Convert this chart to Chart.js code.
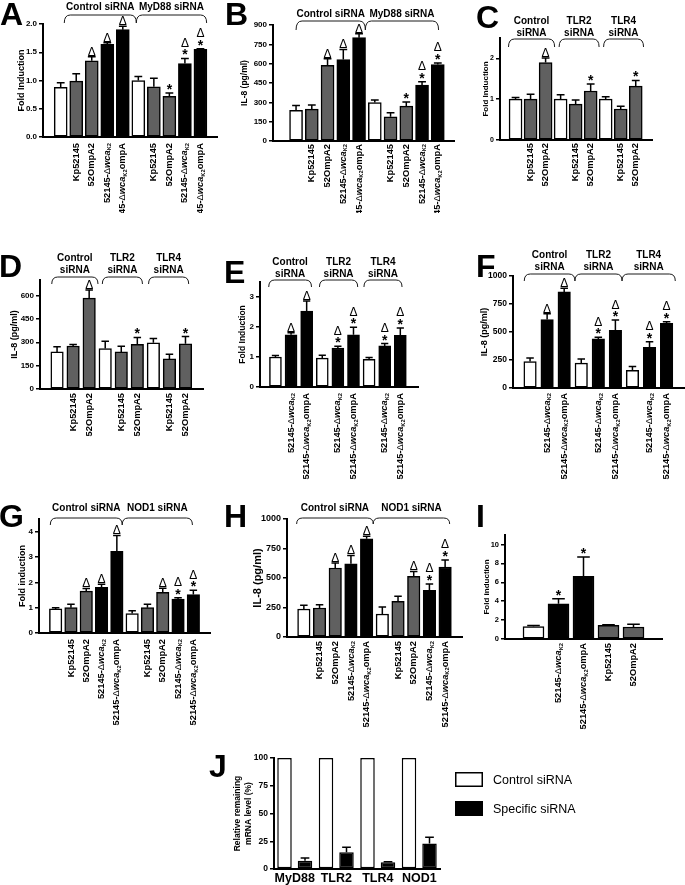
<!DOCTYPE html>
<html>
<head>
<meta charset="utf-8">
<title>siRNA knockdown panels</title>
<script src="https://cdn.jsdelivr.net/npm/chart.js@4.4.1/dist/chart.umd.min.js"></script>
<style>
  html, body { margin: 0; padding: 0; background: #fff; }
  body { position: relative; width: 685px; height: 885px; overflow: hidden; }
  canvas { position: absolute; }
</style>
</head>
<body>
<script>
// ---- values ----
const strainsTen = ['', 'Kp52145', '52OmpA2', '52145-ΔwcaK2', '52145-ΔwcaK2ompA', '', 'Kp52145', '52OmpA2', '52145-ΔwcaK2', '52145-ΔwcaK2ompA'];
const strainsOmp = ['', 'Kp52145', '52OmpA2', '', 'Kp52145', '52OmpA2', '', 'Kp52145', '52OmpA2'];
const strainsWca = ['', '52145-ΔwcaK2', '52145-ΔwcaK2ompA', '', '52145-ΔwcaK2', '52145-ΔwcaK2ompA', '', '52145-ΔwcaK2', '52145-ΔwcaK2ompA'];
const strainsI = ['', '52145-ΔwcaK2', '52145-ΔwcaK2ompA', 'Kp52145', '52OmpA2'];

const groupsMyD88 = ['Control siRNA', 'MyD88 siRNA'];
const groupsTLR = [['Control', 'siRNA'], ['TLR2', 'siRNA'], ['TLR4', 'siRNA']];
const groupsNOD1 = ['Control siRNA', 'NOD1 siRNA'];

const aValues = [0.88, 0.99, 1.35, 1.64, 1.90, 1.00, 0.89, 0.72, 1.30, 1.55];
const aErrors = [0.08, 0.13, 0.07, 0.03, 0.06, 0.07, 0.15, 0.06, 0.09, 0.01];
const aMarks = ['', '', 'Δ', 'Δ', 'Δ', '', '', '*', '*Δ', '*Δ'];

const bValues = [238, 247, 588, 632, 802, 299, 188, 270, 433, 593];
const bErrors = [38, 33, 50, 78, 31, 20, 31, 33, 26, 13];
const bMarks = ['', '', 'Δ', 'Δ', 'Δ', '', '', '*', '*Δ', '*Δ'];

const cValues = [1.00, 1.00, 1.90, 1.00, 0.88, 1.20, 1.00, 0.76, 1.32];
const cErrors = [0.04, 0.12, 0.11, 0.11, 0.10, 0.17, 0.06, 0.07, 0.14];
const cMarks = ['', '', 'Δ', '', '', '*', '', '', '*'];

const dValues = [238, 276, 584, 260, 238, 287, 297, 193, 290];
const dErrors = [33, 10, 52, 47, 37, 44, 28, 30, 47];
const dMarks = ['', '', 'Δ', '', '', '*', '', '', '*'];

const eValues = [1.00, 1.74, 2.53, 0.96, 1.30, 1.74, 0.92, 1.37, 1.72];
const eErrors = [0.05, 0.07, 0.34, 0.10, 0.06, 0.25, 0.06, 0.08, 0.25];
const eMarks = ['', 'Δ', 'Δ', '', '*Δ', '*Δ', '', '*Δ', '*Δ'];

const fValues = [237, 612, 858, 222, 438, 515, 157, 364, 577];
const fErrors = [30, 52, 33, 38, 15, 92, 35, 50, 14];
const fMarks = ['', 'Δ', 'Δ', '', '*Δ', '*Δ', '', '*Δ', '*Δ'];

const gValues = [0.95, 1.00, 1.65, 1.80, 3.22, 0.77, 1.00, 1.61, 1.34, 1.52];
const gErrors = [0.05, 0.13, 0.11, 0.12, 0.63, 0.11, 0.13, 0.16, 0.05, 0.17];
const gMarks = ['', '', 'Δ', 'Δ', 'Δ', '', '', 'Δ', '*Δ', '*Δ'];

const hValues = [237, 246, 585, 621, 833, 195, 302, 514, 395, 593];
const hErrors = [32, 28, 42, 70, 20, 60, 43, 42, 55, 60];
const hMarks = ['', '', 'Δ', 'Δ', 'Δ', '', '', 'Δ', '*Δ', '*Δ'];

const iValues = [1.32, 3.72, 6.62, 1.44, 1.27];
const iErrors = [0.12, 0.55, 2.05, 0.06, 0.28];
const iMarks = ['', '*', '*', '', ''];

const jGenes = ['MyD88', 'TLR2', 'TLR4', 'NOD1'];
const jControl = [100, 100, 100, 100];
const jSpecific = [7.5, 15, 6, 23];
const jSpecificErr = [2.5, 4.5, 0.6, 5.5];

// ---- layout / styling ----
const FONT = '"Liberation Sans", Arial, Helvetica, sans-serif';
const fillOf = { w: '#ffffff', g: '#606060', b: '#000000' };
Chart.defaults.font.family = FONT;
Chart.defaults.color = '#000';

const panels = [
  { letter: 'A', letterAt: [0, 25], box: [0, 0, 225, 213],
    values: aValues, errors: aErrors, marks: aMarks, labels: strainsTen, fills: 'wggbbwggbb',
    axisX: 43, top: 24, base: 137, right: 217, c0: 53, dx: 17.25, bw: 13,
    ymax: 2, step: 0.5, dec: 1, tickSize: 8, title: 'Fold Induction', titleX: 22, titleSize: 9,
    groups: groupsMyD88, spans: [[0.23, 4.87], [4.87, 9.4]], braceTop: 15, braceBot: 23, groupY: 7, labelTop: 143 },
  { letter: 'B', letterAt: [225, 25], box: [225, 0, 230, 213],
    values: bValues, errors: bErrors, marks: bMarks, labels: strainsTen, fills: 'wggbbwggbb',
    axisX: 273, top: 25, base: 141, right: 455, c0: 288.5, dx: 17.5, bw: 13,
    ymax: 900, step: 150, dec: 0, tickSize: 8, title: 'IL-8 (pg/ml)', titleX: 245, titleSize: 8.5,
    groups: groupsMyD88, spans: [[0, 4.4], [4.4, 9.05]], braceTop: 21, braceBot: 30, groupY: 14, labelTop: 144 },
  { letter: 'C', letterAt: [476, 28], box: [455, 0, 230, 213],
    values: cValues, errors: cErrors, marks: cMarks, labels: strainsOmp, fills: 'wggwggwgg',
    axisX: 500, top: 38, base: 140, right: 652, c0: 508, dx: 16.9, bw: 13,
    ymax: 2.5, step: 1, dec: 0, tickSize: 7, title: 'Fold Induction', titleX: 486, titleSize: 8,
    groups: groupsTLR, spans: [[-0.47, 2.6], [2.9, 5.56], [5.86, 8.52]], braceTop: 39, braceBot: 47, groupY: 21, labelTop: 143 },
  { letter: 'D', letterAt: [-1, 277], box: [0, 215, 225, 230],
    values: dValues, errors: dErrors, marks: dMarks, labels: strainsOmp, fills: 'wggwggwgg',
    axisX: 40, top: 280, base: 389, right: 203, c0: 49, dx: 18.06, bw: 12.5,
    ymax: 700, step: 150, dec: 0, tickSize: 8, title: 'IL-8 (pg/ml)', titleX: 15, titleSize: 9,
    groups: groupsTLR, spans: [[-0.33, 2.55], [2.82, 5.32], [5.7, 8.2]], braceTop: 277, braceBot: 284, groupY: 258, labelTop: 393 },
  { letter: 'E', letterAt: [224, 283], box: [225, 215, 230, 275],
    values: eValues, errors: eErrors, marks: eMarks, labels: strainsWca, fills: 'wbbwbbwbb',
    axisX: 260, top: 282, base: 387, right: 418, c0: 267.5, dx: 17.56, bw: 12,
    ymax: 3.5, step: 1, dec: 0, tickSize: 8, title: 'Fold Induction', titleX: 243, titleSize: 8.5,
    groups: groupsTLR, spans: [[-0.43, 2.31], [2.82, 5.27], [5.67, 8.11]], braceTop: 280, braceBot: 287, groupY: 262, labelTop: 393 },
  { letter: 'F', letterAt: [476, 277], box: [455, 215, 230, 275],
    values: fValues, errors: fErrors, marks: fMarks, labels: strainsWca, fills: 'wbbwbbwbb',
    axisX: 513, top: 276, base: 388, right: 684, c0: 521.5, dx: 19.2, bw: 12.5,
    ymax: 1000, step: 250, dec: 0, tickSize: 8.5, title: 'IL-8 (pg/ml)', titleX: 485, titleSize: 9,
    groups: groupsTLR, spans: [[-0.34, 2.63], [2.63, 5.39], [5.39, 8.51]], braceTop: 274, braceBot: 281, groupY: 255, labelTop: 393 },
  { letter: 'G', letterAt: [-1, 527], box: [0, 490, 225, 250],
    values: gValues, errors: gErrors, marks: gMarks, labels: strainsTen, fills: 'wggbbwggbb',
    axisX: 39, top: 519, base: 633, right: 210, c0: 48, dx: 17, bw: 12.5,
    ymax: 4.5, step: 1, dec: 0, tickSize: 8, title: 'Fold induction', titleX: 23, titleSize: 9,
    groups: groupsNOD1, spans: [[-0.35, 4.35], [4.35, 8.94]], braceTop: 518, braceBot: 525, groupY: 508, labelTop: 639 },
  { letter: 'H', letterAt: [224, 527], box: [225, 490, 245, 250],
    values: hValues, errors: hErrors, marks: hMarks, labels: strainsTen, fills: 'wggbbwggbb',
    axisX: 287, top: 519, base: 637, right: 462, c0: 296, dx: 17.44, bw: 12.5,
    ymax: 1000, step: 250, dec: 0, tickSize: 9, title: 'IL-8 (pg/ml)', titleX: 258, titleSize: 11,
    groups: groupsNOD1, spans: [[-0.46, 4.42], [4.42, 9.29]], braceTop: 518, braceBot: 524, groupY: 508, labelTop: 641 },
  { letter: 'I', letterAt: [476, 527], box: [455, 490, 230, 250],
    values: iValues, errors: iErrors, marks: iMarks, labels: strainsI, fills: 'wbbgg',
    axisX: 505, top: 535, base: 639, right: 662, c0: 521, dx: 31.25, bw: 21,
    ymax: 11, step: 2, dec: 0, tickSize: 7.5, title: 'Fold induction', titleX: 487, titleSize: 8,
    groups: [], spans: [], labelTop: 643 }
];

const jPanel = { letter: 'J', letterAt: [209, 777], box: [200, 745, 485, 140],
  axisX: 274, top: 758, base: 869, right: 440,
  ymax: 100, step: 25, dec: 0, tickSize: 8.5,
  title: ['Relative remaining', 'mRNA level (%)'], titleX: 238, titleSize: 8.5,
  legendAt: [455, 772], legendGap: 29 };

// ---- drawing helpers ----
function addCanvas(box) {
  const cv = document.createElement('canvas');
  cv.width = box[2];
  cv.height = box[3];
  cv.style.left = box[0] + 'px';
  cv.style.top = box[1] + 'px';
  document.body.appendChild(cv);
  return cv;
}

function richParts(label, size) {
  const m = label.match(/^(.*-)Δwca(K2)(.*)$/);
  const bold = `bold ${size}px ${FONT}`;
  if (!m) return [{ t: label, f: bold, dy: 0 }];
  const parts = [
    { t: m[1], f: bold, dy: 0 },
    { t: 'Δ', f: `${size}px ${FONT}`, dy: 0 },
    { t: 'wca', f: `italic bold ${size}px ${FONT}`, dy: 0 },
    { t: m[2], f: `bold ${size * 0.62}px ${FONT}`, dy: size * 0.28 }
  ];
  if (m[3]) parts.push({ t: m[3], f: bold, dy: 0 });
  return parts;
}

// rotated label, reads bottom to top, its end sitting at yTop
function drawVertLabel(ctx, label, x, yTop, size) {
  const parts = richParts(label, size);
  let w = 0;
  parts.forEach(p => { ctx.font = p.f; p.w = ctx.measureText(p.t).width; w += p.w; });
  ctx.save();
  ctx.translate(x, yTop);
  ctx.rotate(-Math.PI / 2);
  ctx.fillStyle = '#000';
  ctx.textAlign = 'left';
  ctx.textBaseline = 'middle';
  let cx = -w;
  parts.forEach(p => { ctx.font = p.f; ctx.fillText(p.t, cx, p.dy); cx += p.w; });
  ctx.restore();
}

function errorBar(ctx, bar, ys, v, e) {
  if (!e) return bar.y;
  const yTop = ys.getPixelForValue(v + e);
  const hw = bar.width * 0.3;
  ctx.strokeStyle = '#000';
  ctx.lineWidth = 1.5;
  ctx.beginPath();
  ctx.moveTo(bar.x, bar.y);
  ctx.lineTo(bar.x, yTop);
  ctx.moveTo(bar.x - hw, yTop);
  ctx.lineTo(bar.x + hw, yTop);
  ctx.stroke();
  return yTop;
}

function drawMarks(ctx, x, cap, marks) {
  let y = cap - 1;
  ctx.fillStyle = '#000';
  ctx.textAlign = 'center';
  ctx.textBaseline = 'alphabetic';
  for (const m of marks) {
    if (m === '*') {
      ctx.font = `bold 14px ${FONT}`;
      ctx.fillText('*', x, y + 2);
      y -= 10.5;
    } else {
      ctx.font = `12px ${FONT}`;
      ctx.fillText('Δ', x, y);
      y -= 10;
    }
  }
}

function drawBraces(ctx, p, xs) {
  const oy = p.box[1];
  if (!p.spans.length) return;
  ctx.strokeStyle = '#1a1a1a';
  ctx.lineWidth = 1;
  ctx.beginPath();
  p.spans.forEach(([a, b]) => {
    const x1 = xs.getPixelForValue(a), x2 = xs.getPixelForValue(b);
    const yt = p.braceTop - oy, yb = p.braceBot - oy, r = 6;
    ctx.moveTo(x1, yb);
    ctx.quadraticCurveTo(x1, yt, x1 + r, yt);
    ctx.lineTo(x2 - r, yt);
    ctx.quadraticCurveTo(x2, yt, x2, yb);
  });
  ctx.stroke();
  ctx.font = `bold 10px ${FONT}`;
  ctx.fillStyle = '#000';
  ctx.textAlign = 'center';
  ctx.textBaseline = 'middle';
  p.groups.forEach((g, k) => {
    const [a, b] = p.spans[k];
    const cx = (xs.getPixelForValue(a) + xs.getPixelForValue(b)) / 2;
    [].concat(g).forEach((line, j) => ctx.fillText(line, cx, p.groupY - oy + j * 12.5));
  });
}

function drawLetter(ctx, p) {
  ctx.font = `bold 32px ${FONT}`;
  ctx.fillStyle = '#000';
  ctx.textAlign = 'left';
  ctx.textBaseline = 'alphabetic';
  ctx.fillText(p.letter, p.letterAt[0] - p.box[0], p.letterAt[1] - p.box[1]);
}

function yScale(p) {
  const lh = p.titleSize * 1.2;
  return {
    min: 0,
    max: p.ymax,
    ticks: { stepSize: p.step, includeBounds: false, color: '#000', padding: 2,
      font: { size: p.tickSize, weight: 'bold' }, callback: v => v.toFixed(p.dec) },
    grid: { drawOnChartArea: false, drawTicks: true, tickLength: 4, color: '#000', lineWidth: 1.5 },
    border: { color: '#000', width: 2 },
    title: { display: true, text: p.title, color: '#000', font: { size: p.titleSize, weight: 'bold' },
      padding: { top: p.titleX - p.box[0] - lh / 2, bottom: 0 } },
    afterFit: s => { s.width = p.axisX - p.box[0]; }
  };
}

function panelPlugin(p) {
  return {
    id: 'panel' + p.letter,
    afterDatasetsDraw(chart) {
      const ctx = chart.ctx;
      const xs = chart.scales.x, ys = chart.scales.y;
      ctx.save();
      chart.getDatasetMeta(0).data.forEach((bar, i) => {
        const cap = errorBar(ctx, bar, ys, p.values[i], p.errors[i]);
        drawMarks(ctx, bar.x, cap, p.marks[i]);
        if (p.labels[i]) drawVertLabel(ctx, p.labels[i], bar.x, p.labelTop - p.box[1], 9.3);
      });
      drawBraces(ctx, p, xs);
      drawLetter(ctx, p);
      ctx.restore();
    }
  };
}

// ---- panels A-I ----
panels.forEach(p => {
  const [bx, by, bwid, bht] = p.box;
  const xmin = -(p.c0 - p.axisX) / p.dx;
  const xmax = xmin + (p.right - p.axisX) / p.dx;
  new Chart(addCanvas(p.box), {
    type: 'bar',
    data: {
      datasets: [{
        data: p.values.map((v, i) => ({ x: i, y: v })),
        backgroundColor: [...p.fills].map(c => fillOf[c]),
        borderColor: '#000',
        borderWidth: 1.5,
        borderSkipped: false,
        barThickness: p.bw
      }]
    },
    options: {
      responsive: false,
      animation: false,
      devicePixelRatio: 1,
      events: [],
      layout: { padding: { left: 0, top: p.top - by, right: bx + bwid - p.right, bottom: by + bht - p.base } },
      plugins: { legend: { display: false }, tooltip: { enabled: false } },
      scales: {
        x: {
          type: 'linear', min: xmin, max: xmax,
          ticks: { display: false, stepSize: 1, includeBounds: false },
          grid: { display: false, drawTicks: false },
          border: { display: true, color: '#000', width: 2 },
          afterFit: s => { s.height = 0; }
        },
        y: yScale(p)
      }
    },
    plugins: [panelPlugin(p)]
  });
});

// ---- panel J ----
(function () {
  const p = jPanel;
  const [bx, by, bwid, bht] = p.box;
  new Chart(addCanvas(p.box), {
    type: 'bar',
    data: {
      labels: jGenes,
      datasets: [
        { label: 'Control siRNA', data: jControl, backgroundColor: '#ffffff' },
        { label: 'Specific siRNA', data: jSpecific, backgroundColor: '#000000' }
      ]
    },
    options: {
      responsive: false,
      animation: false,
      devicePixelRatio: 1,
      events: [],
      datasets: { bar: { borderColor: '#000', borderWidth: 1.5, borderSkipped: false, categoryPercentage: 0.988, barPercentage: 0.707 } },
      layout: { padding: { left: 0, top: p.top - by, right: bx + bwid - p.right, bottom: 0 } },
      plugins: { legend: { display: false }, tooltip: { enabled: false } },
      scales: {
        x: {
          ticks: { color: '#000', padding: 2, maxRotation: 0, minRotation: 0, autoSkip: false,
            font: { size: 12.5, weight: 'bold' } },
          grid: { display: false, drawTicks: false },
          border: { display: true, color: '#000', width: 2 },
          afterFit: s => { s.height = by + bht - p.base; }
        },
        y: yScale(p)
      }
    },
    plugins: [{
      id: 'panelJ',
      afterDatasetsDraw(chart) {
        const ctx = chart.ctx;
        const ys = chart.scales.y;
        ctx.save();
        chart.getDatasetMeta(1).data.forEach((bar, i) => errorBar(ctx, bar, ys, jSpecific[i], jSpecificErr[i]));
        // legend
        const [lx, ly] = p.legendAt;
        chart.data.datasets.forEach((ds, k) => {
          const x = lx - bx, y = ly - by + k * p.legendGap;
          ctx.fillStyle = ds.backgroundColor;
          ctx.fillRect(x, y, 28, 15);
          ctx.strokeStyle = '#000';
          ctx.lineWidth = 1.5;
          ctx.strokeRect(x + 0.75, y + 0.75, 26.5, 13.5);
          ctx.fillStyle = '#000';
          ctx.font = `12.5px ${FONT}`;
          ctx.textAlign = 'left';
          ctx.textBaseline = 'middle';
          ctx.fillText(ds.label, x + 38, y + 8.5);
        });
        drawLetter(ctx, p);
        ctx.restore();
      }
    }]
  });
})();
</script>
</body>
</html>
